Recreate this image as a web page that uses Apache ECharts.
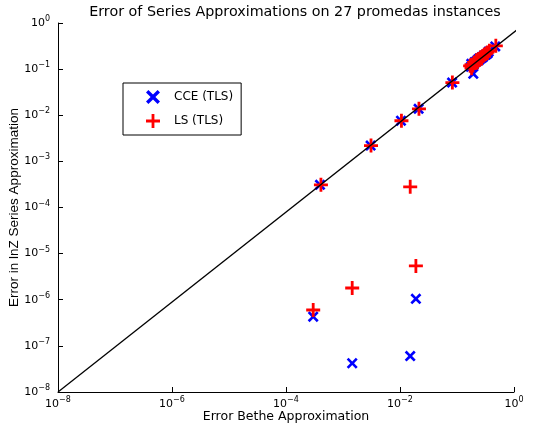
<!DOCTYPE html>
<html>
<head>
<meta charset="utf-8">
<script src="https://cdn.jsdelivr.net/npm/echarts@6/dist/echarts.min.js"></script>
<style>
html, body { margin: 0; padding: 0; background: #fff; }
#chart { width: 536px; height: 438px; }
</style>
</head>
<body>
<div id="chart"></div>
<script>
// tick labels (decades)
var xTicks = [1e-8, 1e-6, 1e-4, 1e-2, 1];
var yTicks = [1e-8, 1e-7, 1e-6, 1e-5, 1e-4, 1e-3, 1e-2, 1e-1, 1];

// CCE (TLS), blue crosses
var cceX = [3.0e-4, 1.45e-3, 0.0151, 0.019, 3.95e-4, 3.05e-3, 0.0104, 0.0212, 0.082, 0.193,
  0.175, 0.178, 0.195, 0.205, 0.205, 0.225, 0.23, 0.245, 0.245, 0.265, 0.27, 0.285, 0.295, 0.32, 0.345, 0.36, 0.47];
var cceY = [4.3e-7, 4.2e-8, 6.0e-8, 1.05e-6, 3.1e-4, 2.2e-3, 7.6e-3, 0.0138, 0.051, 0.079,
  0.112, 0.13, 0.124, 0.136, 0.143, 0.15, 0.158, 0.158, 0.17, 0.172, 0.182, 0.183, 0.195, 0.205, 0.22, 0.24, 0.31];

// LS (TLS), red plus signs
var lsX = [3.0e-4, 1.45e-3, 0.0151, 0.019, 4.1e-4, 3.1e-3, 0.0106, 0.0215, 0.083, 0.18,
  0.17, 0.18, 0.19, 0.20, 0.21, 0.22, 0.23, 0.24, 0.25, 0.26, 0.27, 0.28, 0.30, 0.32, 0.34, 0.37, 0.48];
var lsY = [6.0e-7, 1.8e-6, 2.8e-4, 5.4e-6, 3.1e-4, 2.2e-3, 7.6e-3, 0.0138, 0.051, 0.105,
  0.118, 0.125, 0.12, 0.14, 0.135, 0.155, 0.148, 0.165, 0.16, 0.18, 0.17, 0.19, 0.205, 0.215, 0.23, 0.25, 0.32];

// reference line
var diagX = [1e-8, 1.6];
var diagY = [1e-8, 1];

// minor tick positions on the y axis (log10 of 1..9 per decade)
var yMinorLog = [];
for (var d = -8; d < 0; d++) {
  for (var m = 1; m <= 9; m++) yMinorLog.push(d + Math.log10(m));
}
yMinorLog.push(0);

function zip(a, b) { return a.map(function (v, i) { return [v, b[i]]; }); }

var crossPath = 'path://M0,1.7L1.7,0L5,3.3L8.3,0L10,1.7L6.7,5L10,8.3L8.3,10L5,6.7L1.7,10L0,8.3L3.3,5Z';
var plusPath = 'path://M4,0H6V4H10V6H6V10H4V6H0V4H4Z';

var font = 'DejaVu Sans';
function powLabel(v) {
  var e = Math.round(Math.log10(v));
  return '{b|10}{s|' + (e < 0 ? '\u2212' + (-e) : e) + '}';
}
var richLabel = {
  b: { fontFamily: font, fontSize: 11, color: '#000' },
  s: { fontFamily: font, fontSize: 8, color: '#000', padding: [0, 0, 8, 0] }
};

var chart = echarts.init(document.getElementById('chart'));
chart.setOption({
  backgroundColor: '#fff',
  animation: false,
  title: {
    text: 'Error of Series Approximations on 27 promedas instances',
    left: 290, top: 0, textAlign: 'center',
    textStyle: { fontFamily: font, fontSize: 14.3, fontWeight: 'normal', color: '#000' }
  },
  legend: {
    orient: 'vertical', left: 123, top: 83,
    padding: [7, 8, 7, 23], itemGap: 10,
    itemWidth: 14, itemHeight: 14,
    borderColor: '#000', borderWidth: 1, backgroundColor: '#fff',
    textStyle: { fontFamily: font, fontSize: 12, color: '#000', padding: [0, 0, 0, 9] },
    data: ['CCE (TLS)', 'LS (TLS)']
  },
  grid: { left: 58, right: 22, top: 23, bottom: 46, outerBoundsMode: 'none' },
  xAxis: {
    type: 'log', logBase: 10, min: 1e-8, max: 1, interval: 2,
    name: 'Error Bethe Approximation', nameLocation: 'middle', nameGap: 18, nameMoveOverlap: false,
    nameTextStyle: { fontFamily: font, fontSize: 12.5, color: '#000' },
    axisLine: { lineStyle: { color: '#000', width: 1 } },
    axisTick: { inside: true, length: 5, lineStyle: { color: '#000' } },
    axisLabel: { margin: 4, formatter: powLabel, rich: richLabel },
    splitLine: { show: false }
  },
  yAxis: [{
    type: 'log', logBase: 10, min: 1e-8, max: 1, interval: 1,
    name: 'Error in lnZ Series Approximation', nameLocation: 'middle', nameGap: 37, nameMoveOverlap: false,
    nameTextStyle: { fontFamily: 'Liberation Sans', fontSize: 13.5, color: '#000' },
    axisLine: { lineStyle: { color: '#000', width: 1 } },
    axisTick: { inside: true, length: 5, lineStyle: { color: '#000' } },
    axisLabel: { margin: 8, formatter: powLabel, rich: richLabel },
    splitLine: { show: false }
  }, {
    type: 'log', logBase: 10, min: 1e-8, max: 1, position: 'left',
    axisLine: { show: false },
    axisTick: { inside: true, length: 3, lineStyle: { color: '#000' }, customValues: yMinorLog },
    axisLabel: { show: false },
    splitLine: { show: false }
  }],
  series: [
    {
      name: 'CCE (TLS)', type: 'scatter', symbol: crossPath, symbolSize: 11,
      itemStyle: { color: '#0000ff', opacity: 1 }, data: zip(cceX, cceY), z: 2
    },
    {
      name: 'LS (TLS)', type: 'scatter', symbol: plusPath, symbolSize: 14,
      itemStyle: { color: '#ff0000', opacity: 1 }, data: zip(lsX, lsY), z: 3
    },
    {
      type: 'line', data: zip(diagX, diagY), showSymbol: false, symbol: 'none',
      clip: false, lineStyle: { color: '#000', width: 1.3 }, z: 4, silent: true
    }
  ]
});
</script>
</body>
</html>
